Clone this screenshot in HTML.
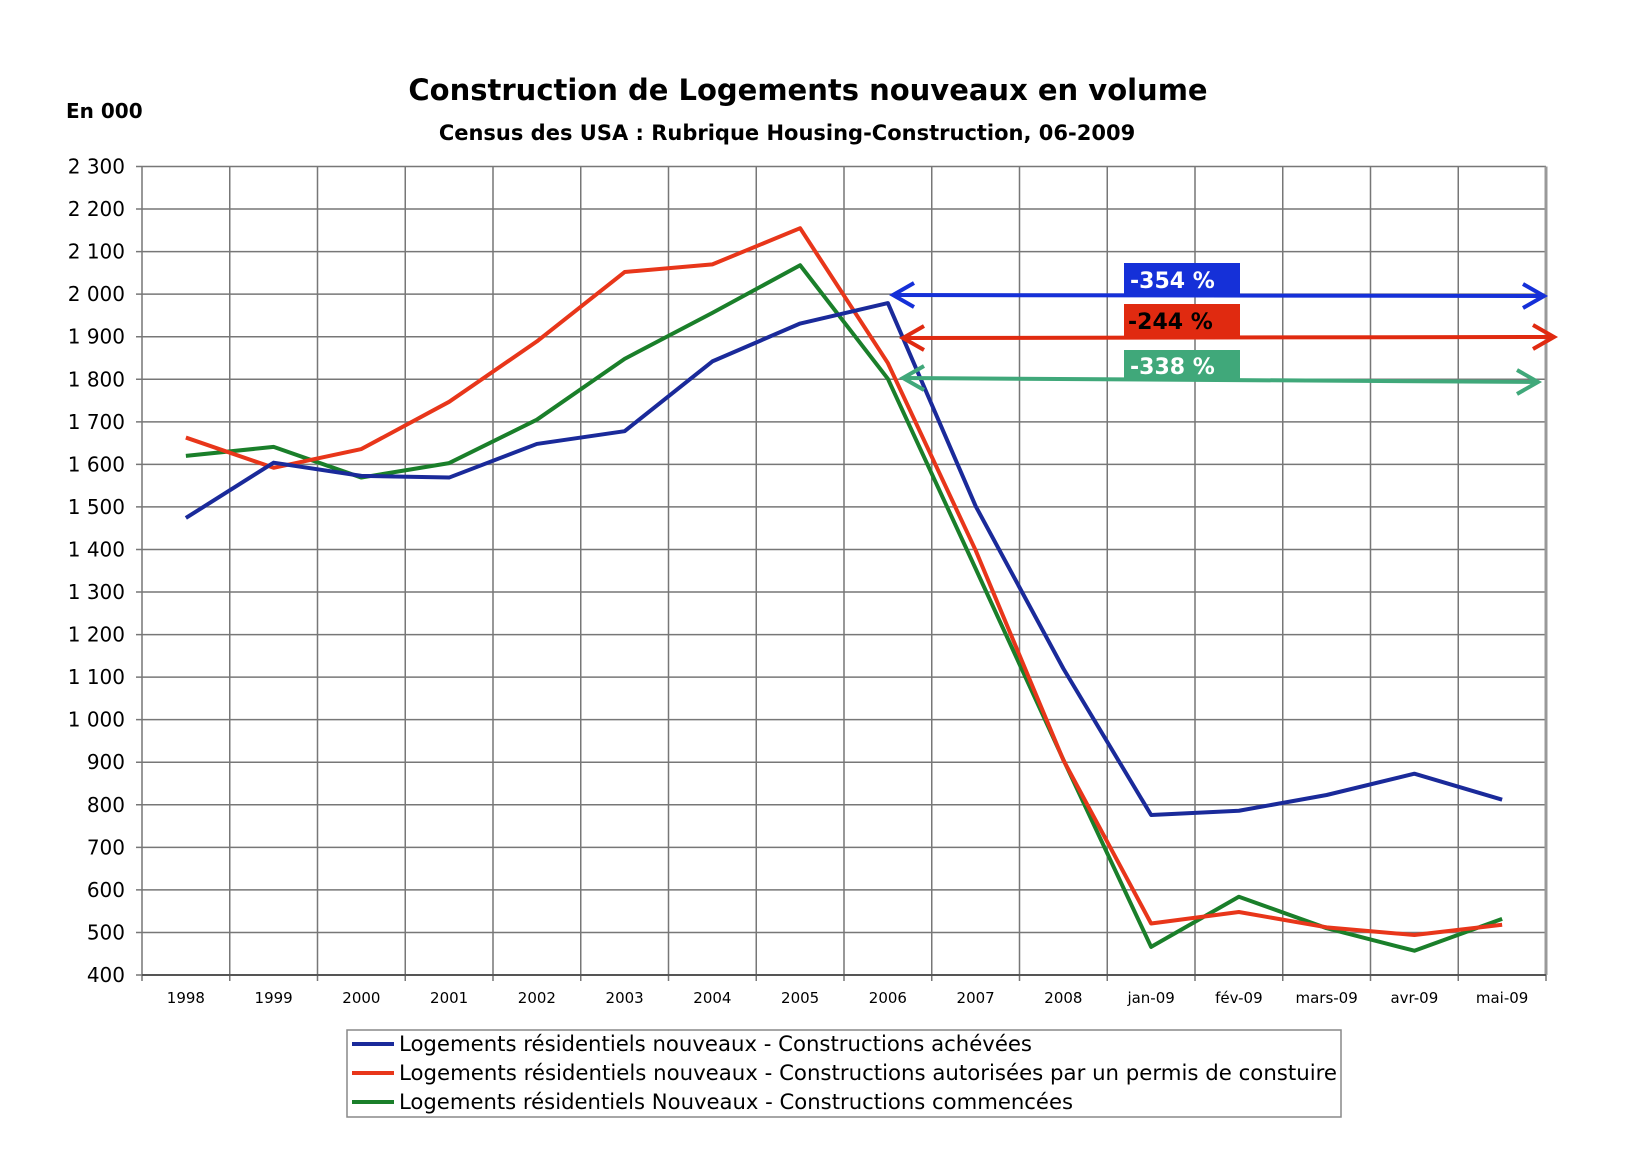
<!DOCTYPE html>
<html><head><meta charset="utf-8"><style>
html,body{margin:0;padding:0;background:#fff;}
svg{display:block;font-family:"DejaVu Sans","Liberation Sans",sans-serif;}
</style></head><body>
<svg id="s" width="1652" height="1168" viewBox="0 0 1652 1168" xmlns="http://www.w3.org/2000/svg">
<rect width="1652" height="1168" fill="#fff"/>
<text x="808" y="100" text-anchor="middle" font-size="29" font-weight="bold">Construction de Logements nouveaux en volume</text>
<text x="787" y="140" text-anchor="middle" font-size="21" font-weight="bold">Census des USA : Rubrique Housing-Construction, 06-2009</text>
<text x="66" y="118" font-size="20" font-weight="bold">En 000</text>
<g id="grid"></g>
<g id="series"></g>
<g id="ann">
<line x1="893" y1="295" x2="1544" y2="296" stroke="#1530d8" stroke-width="4"/>
<polyline points="914,283 893,295 914,307" fill="none" stroke="#1530d8" stroke-width="4"/>
<polyline points="1523,284 1544,296 1523,308" fill="none" stroke="#1530d8" stroke-width="4"/>
<rect x="1124" y="263" width="116" height="32" fill="#1530d8"/>
<text x="1130" y="288" font-size="22" font-weight="bold" fill="#fff">-354 %</text>
<line x1="903" y1="338" x2="1554" y2="337" stroke="#e02a10" stroke-width="4"/>
<polyline points="924,326 903,338 924,350" fill="none" stroke="#e02a10" stroke-width="4"/>
<polyline points="1533,325 1554,337 1533,349" fill="none" stroke="#e02a10" stroke-width="4"/>
<rect x="1124" y="304" width="116" height="33" fill="#e02a10"/>
<text x="1128" y="329" font-size="22" font-weight="bold" fill="#000">-244 %</text>
<line x1="903" y1="378" x2="1538" y2="382" stroke="#40a87a" stroke-width="4"/>
<polyline points="924,366 903,378 924,390" fill="none" stroke="#40a87a" stroke-width="4"/>
<polyline points="1517,370 1538,382 1517,394" fill="none" stroke="#40a87a" stroke-width="4"/>
<rect x="1124" y="350" width="116" height="29" fill="#40a87a"/>
<text x="1130" y="374" font-size="22" font-weight="bold" fill="#fff">-338 %</text>
</g>
<rect x="347" y="1030" width="994" height="87" fill="#fff" stroke="#888" stroke-width="1.5"/>
<line x1="352" y1="1044" x2="394" y2="1044" stroke="#1a2a9a" stroke-width="4"/>
<line x1="352" y1="1073" x2="394" y2="1073" stroke="#e8361a" stroke-width="4"/>
<line x1="352" y1="1102" x2="394" y2="1102" stroke="#1a7f2a" stroke-width="4"/>
<g font-size="21">
<text x="399" y="1051" textLength="633" lengthAdjust="spacingAndGlyphs">Logements résidentiels nouveaux - Constructions achévées</text>
<text x="399" y="1080" textLength="938" lengthAdjust="spacingAndGlyphs">Logements résidentiels nouveaux - Constructions autorisées par un permis de constuire</text>
<text x="399" y="1109" textLength="674" lengthAdjust="spacingAndGlyphs">Logements résidentiels Nouveaux - Constructions commencées</text>
</g>
</svg>
<script>
var L=142,R=1546,T=166.5,B=975,n=16,w=(R-L)/n;
function y(v){return B-(v-400)*(B-T)/1900;}
function x(i){return L+w*(i+0.5);}
var g='';
for(var v=400;v<=2300;v+=100){var yy=y(v);g+='<line x1="'+(L-6)+'" y1="'+yy+'" x2="'+R+'" y2="'+yy+'" stroke="#777" stroke-width="1.5"/>';
var s=v>=1000?(Math.floor(v/1000)+' '+String(v%1000).padStart(3,'0')):String(v);
g+='<text x="'+(L-17)+'" y="'+(yy+7)+'" text-anchor="end" font-size="20">'+s+'</text>';}
var labs=['1998','1999','2000','2001','2002','2003','2004','2005','2006','2007','2008','jan-09','fév-09','mars-09','avr-09','mai-09'];
for(var i=0;i<=n;i++){var xx=L+w*i;g+='<line x1="'+xx+'" y1="'+T+'" x2="'+xx+'" y2="'+(B+6)+'" stroke="#777" stroke-width="1.5"/>';}
g+='<line x1="'+R+'" y1="'+T+'" x2="'+R+'" y2="'+B+'" stroke="#999" stroke-width="3"/>';
g+='<line x1="'+L+'" y1="'+B+'" x2="'+R+'" y2="'+B+'" stroke="#555" stroke-width="2"/>';
for(var i=0;i<n;i++)g+='<text x="'+x(i)+'" y="'+(B+28)+'" text-anchor="middle" font-size="15">'+labs[i]+'</text>';
document.getElementById('grid').innerHTML=g;
var D=[['#1a7f2a',[1620,1641,1569,1603,1705,1848,1956,2068,1801,1355,906,466,584,510,457,532]],
['#e8361a',[1663,1592,1636,1747,1889,2052,2070,2155,1838,1398,905,521,548,512,494,518]],
['#1a2a9a',[1474,1604,1573,1569,1648,1678,1842,1931,1979,1502,1120,776,786,823,873,812]]];
var s='';D.forEach(function(d){s+='<polyline fill="none" stroke="'+d[0]+'" stroke-width="4" stroke-linejoin="round" points="'+d[1].map(function(v,i){return x(i)+','+y(v)}).join(' ')+'"/>';});
document.getElementById('series').innerHTML=s;
</script>
</body></html>
